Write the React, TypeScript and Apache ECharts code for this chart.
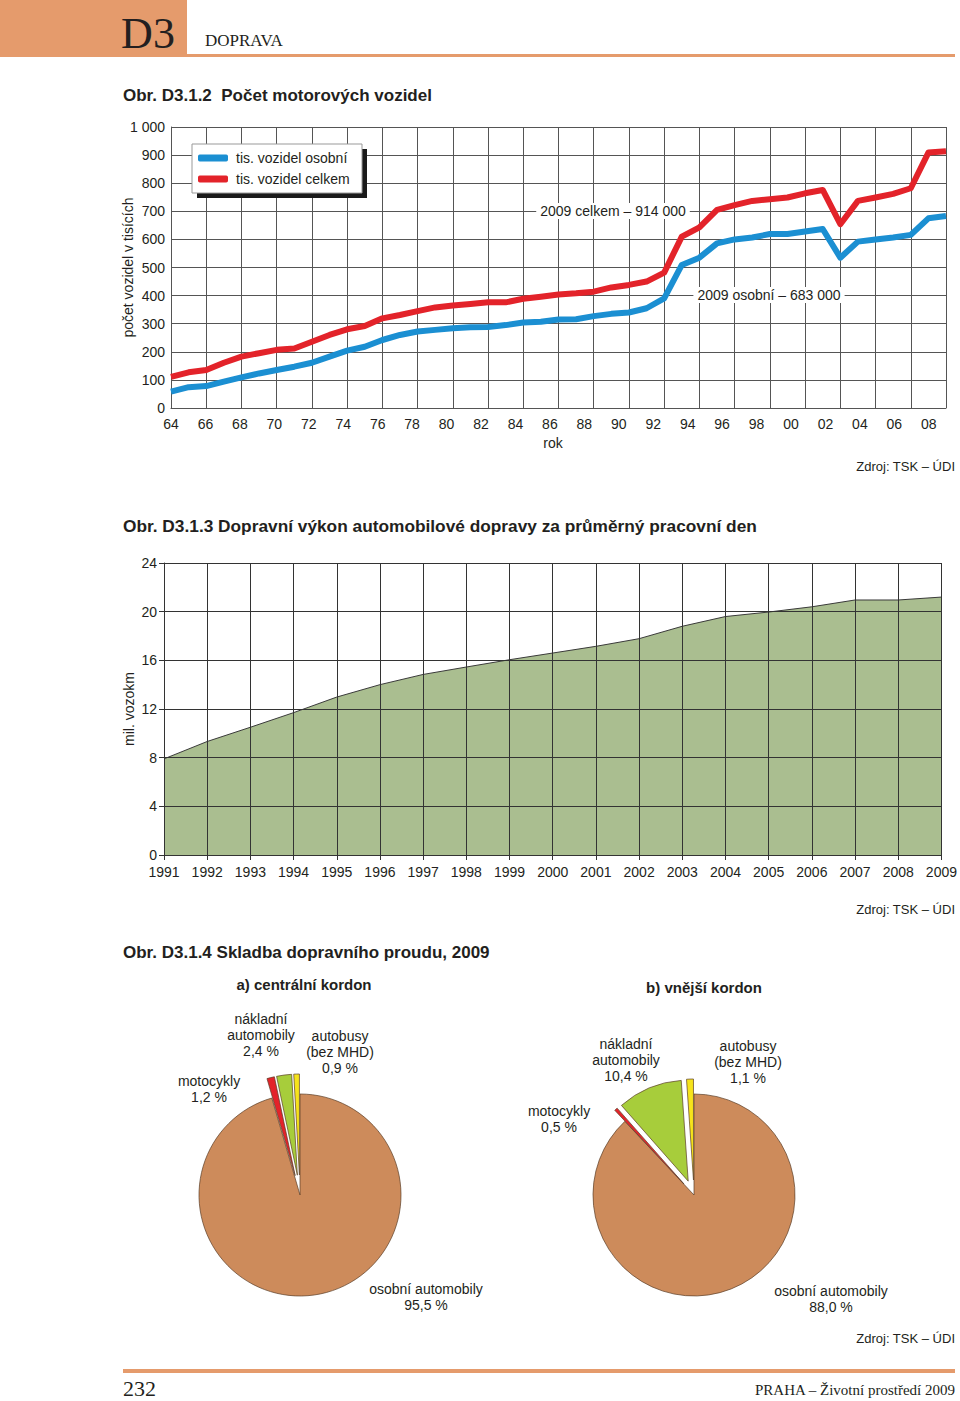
import React, { useEffect, useRef } from "react";
import * as echarts from "echarts";

// ---------- Obr. D3.1.2 data ----------
const vehicleCategories = [
  "1965", "1966", "1967", "1968", "1969", "1970", "1971", "1972", "1973", "1974",
  "1975", "1976", "1977", "1978", "1979", "1980", "1981", "1982", "1983", "1984",
  "1985", "1986", "1987", "1988", "1989", "1990", "1991", "1992", "1993", "1994",
  "1995", "1996", "1997", "1998", "1999", "2000", "2001", "2002", "2003", "2004",
  "2005", "2006", "2007", "2008", "2009",
];
const passengerCars = [
  58, 74, 78, 94, 109, 123, 135, 147, 161, 183, 204, 218, 242, 260, 272, 278, 284, 287, 288, 295,
  304, 307, 315, 316, 327, 335, 340, 355, 390, 509, 535, 586, 600, 607, 619, 619, 628, 637, 535, 592,
  600, 607, 616, 675, 683,
];
const allVehicles = [
  111, 127, 135, 161, 183, 195, 207, 212, 236, 260, 280, 292, 319, 331, 345, 358, 365, 370, 376, 376,
  389, 396, 404, 408, 414, 429, 438, 450, 482, 610, 643, 705, 722, 737, 743, 749, 764, 776, 654, 737,
  749, 762, 782, 909, 914,
];
const vehicleTickLabels = [
  "64", "66", "68", "70", "72", "74", "76", "78", "80", "82", "84", "86",
  "88", "90", "92", "94", "96", "98", "00", "02", "04", "06", "08",
];

// ---------- Obr. D3.1.3 data ----------
const volumeYears = [
  "1991", "1992", "1993", "1994", "1995", "1996", "1997", "1998", "1999", "2000",
  "2001", "2002", "2003", "2004", "2005", "2006", "2007", "2008", "2009",
];
const trafficVolume = [
  7.9, 9.33, 10.5, 11.7, 12.98, 14.0, 14.84, 15.45, 16.05, 16.6,
  17.15, 17.78, 18.8, 19.6, 19.97, 20.4, 20.96, 20.96, 21.2,
];

// ---------- Obr. D3.1.4 data ----------
const pieCategories = ["osobní automobily", "motocykly", "nákladní\nautomobily", "autobusy\n(bez MHD)"];
const centralShares = [95.5, 1.2, 2.4, 0.9];
const outerShares = [88.0, 0.5, 10.4, 1.1];
const pieColors = ["#cd8b5b", "#e3232a", "#a7cd3b", "#f6e31b"];

// layout (positions only)
const centralLabelPos = [[426, 1297], [209, 1089], [261, 1035], [340, 1052]];
const outerLabelPos = [[831, 1299], [559, 1119], [626, 1060], [748, 1062]];

const SANS = '"Liberation Sans", Arial, Helvetica, sans-serif';
const SERIF = '"Liberation Serif", "Times New Roman", serif';
const INK = "#231f20";
const ORANGE = "#e59b6c";

const fmtThousands = (v: number) => String(Math.round(v)).replace(/\B(?=(\d{3})+(?!\d))/g, " ");
const fmtPct = (v: number) => v.toFixed(1).replace(".", ",") + " %";

function pieSeries(name: string, shares: number[], cx: number, offset: number) {
  return {
    type: "pie",
    name,
    center: [cx, 1195],
    radius: 101,
    startAngle: 90,
    clockwise: true,
    selectedMode: "multiple",
    selectedOffset: offset,
    avoidLabelOverlap: false,
    emphasis: { disabled: true },
    itemStyle: { borderColor: "#5a3d26", borderWidth: 0.7 },
    label: { show: false },
    labelLine: { show: false },
    data: shares.map((v, i) => ({
      name: pieCategories[i],
      value: v,
      selected: i > 0,
      itemStyle: { color: pieColors[i] },
    })),
  };
}

function txt(x: number, y: number, text: string, opts: any = {}) {
  return {
    type: "text",
    x,
    y,
    z: opts.z ?? 3,
    style: {
      text,
      fill: opts.fill ?? INK,
      font: opts.font ?? `14px ${SANS}`,
      align: opts.align ?? "left",
      verticalAlign: "middle",
      lineHeight: opts.lineHeight,
      backgroundColor: opts.bg,
      padding: opts.padding,
    },
  };
}

function pieLabels(shares: number[], pos: number[][]) {
  return shares.map((v, i) =>
    txt(pos[i][0], pos[i][1], `${pieCategories[i]}\n${fmtPct(v)}`, {
      align: "center",
      lineHeight: 16,
    })
  );
}

export default function App() {
  const ref = useRef<HTMLDivElement>(null);

  useEffect(() => {
    if (!ref.current) return;
    const chart = echarts.init(ref.current, undefined, { renderer: "svg" });
    const last = allVehicles.length - 1;

    const option: any = {
      animation: false,
      backgroundColor: "#ffffff",
      textStyle: { fontFamily: SANS, color: INK },
      legend: {
        data: ["tis. vozidel osobní", "tis. vozidel celkem"],
        orient: "vertical",
        left: 193,
        top: 146,
        itemWidth: 30,
        itemHeight: 7,
        itemGap: 7,
        icon: "roundRect",
        selectedMode: false,
        textStyle: { fontFamily: SANS, fontSize: 14, color: INK, padding: [0, 0, 0, 3] },
        z: 5,
      },
      grid: [
        { left: 171, top: 127, width: 775, height: 281, containLabel: false },
        { left: 164, top: 563, width: 779, height: 292, containLabel: false },
      ],
      xAxis: [
        {
          gridIndex: 0,
          type: "category",
          data: vehicleCategories,
          boundaryGap: false,
          axisLine: { show: true, lineStyle: { color: "#555", width: 1 } },
          axisTick: { show: false },
          axisLabel: { show: false },
          splitLine: { show: true, lineStyle: { color: "#555", width: 1 } },
        },
        {
          gridIndex: 0,
          type: "value",
          min: 0,
          max: 22.5,
          interval: 1,
          position: "bottom",
          axisLine: { show: false },
          axisTick: { show: false },
          splitLine: { show: false },
          axisLabel: {
            show: true,
            margin: 9,
            fontSize: 14,
            color: INK,
            fontFamily: SANS,
            showMaxLabel: false,
            formatter: (v: number) => vehicleTickLabels[Math.round(v)] ?? "",
          },
        },
        {
          gridIndex: 1,
          type: "category",
          data: volumeYears,
          boundaryGap: false,
          z: 5,
          axisLine: { show: true, lineStyle: { color: "#333", width: 1 } },
          axisTick: { show: true, length: 5, lineStyle: { color: "#333" } },
          axisLabel: { show: true, margin: 10, fontSize: 14, color: INK, fontFamily: SANS },
          splitLine: { show: true, lineStyle: { color: "#333", width: 1 } },
        },
      ],
      yAxis: [
        {
          gridIndex: 0,
          type: "value",
          min: 0,
          max: 1000,
          interval: 100,
          name: "počet vozidel v tisících",
          nameLocation: "middle",
          nameRotate: 90,
          nameGap: 36,
          nameMoveOverlap: false,
          nameTextStyle: { fontSize: 14, color: INK, fontFamily: SANS },
          axisLine: { show: true, lineStyle: { color: "#555", width: 1 } },
          axisTick: { show: false },
          axisLabel: { margin: 6, fontSize: 14, color: INK, fontFamily: SANS, formatter: fmtThousands },
          splitLine: { show: true, lineStyle: { color: "#555", width: 1 } },
        },
        {
          gridIndex: 1,
          type: "value",
          min: 0,
          max: 24,
          interval: 4,
          z: 5,
          name: "mil. vozokm",
          nameLocation: "middle",
          nameRotate: 90,
          nameGap: 28,
          nameMoveOverlap: false,
          nameTextStyle: { fontSize: 14, color: INK, fontFamily: SANS },
          axisLine: { show: true, lineStyle: { color: "#333", width: 1 } },
          axisTick: { show: true, length: 5, lineStyle: { color: "#333" } },
          axisLabel: { margin: 7, fontSize: 14, color: INK, fontFamily: SANS },
          splitLine: { show: true, lineStyle: { color: "#333", width: 1 } },
        },
      ],
      series: [
        {
          type: "line",
          name: "tis. vozidel osobní",
          xAxisIndex: 0,
          yAxisIndex: 0,
          data: passengerCars,
          symbol: "none",
          color: "#1b8fd2",
          lineStyle: { width: 6, color: "#1b8fd2", join: "round" },
          z: 3,
        },
        {
          type: "line",
          name: "tis. vozidel celkem",
          xAxisIndex: 0,
          yAxisIndex: 0,
          data: allVehicles,
          symbol: "none",
          color: "#e3232a",
          lineStyle: { width: 6, color: "#e3232a", join: "round" },
          z: 3,
        },
        {
          type: "line",
          name: "dopravní výkon",
          xAxisIndex: 2,
          yAxisIndex: 1,
          data: trafficVolume,
          symbol: "none",
          lineStyle: { width: 1, color: "#3a3a3a" },
          areaStyle: { color: "#aabe90", opacity: 1 },
          z: 2,
        },
        pieSeries("a) centrální kordon", centralShares, 300, 20),
        pieSeries("b) vnější kordon", outerShares, 694, 15),
      ],
      graphic: [
        // header
        { type: "rect", shape: { x: 0, y: 0, width: 187, height: 57 }, style: { fill: ORANGE }, z: 1 },
        { type: "rect", shape: { x: 187, y: 54, width: 768, height: 3 }, style: { fill: ORANGE }, z: 1 },
        txt(148, 33, "D3", { font: `44px ${SERIF}`, align: "center" }),
        txt(205, 40, "DOPRAVA", { font: `17px ${SERIF}` }),
        // chart 1
        txt(123, 95, "Obr. D3.1.2  Počet motorových vozidel", { font: `bold 17px ${SANS}` }),
        { type: "rect", shape: { x: 197, y: 149, width: 170, height: 49 }, style: { fill: "#1a1a1a" }, z: 3 },
        { type: "rect", shape: { x: 192, y: 144, width: 170, height: 49 }, style: { fill: "#fff", stroke: "#999", lineWidth: 1 }, z: 3 },
        txt(613, 211, `${vehicleCategories[last]} celkem – ${fmtThousands(allVehicles[last] * 1000)}`, {
          align: "center", bg: "#fff", padding: [1, 4],
        }),
        txt(769, 295, `${vehicleCategories[last]} osobní – ${fmtThousands(passengerCars[last] * 1000)}`, {
          align: "center", bg: "#fff", padding: [1, 4],
        }),
        txt(553, 443, "rok", { align: "center" }),
        txt(955, 466, "Zdroj: TSK – ÚDI", { align: "right", font: `13px ${SANS}` }),
        // chart 2
        txt(123, 526, "Obr. D3.1.3 Dopravní výkon automobilové dopravy za průměrný pracovní den", { font: `bold 17.3px ${SANS}` }),
        txt(955, 909, "Zdroj: TSK – ÚDI", { align: "right", font: `13px ${SANS}` }),
        // chart 3
        txt(123, 952, "Obr. D3.1.4 Skladba dopravního proudu, 2009", { font: `bold 17px ${SANS}` }),
        txt(304, 984, "a) centrální kordon", { align: "center", font: `bold 15px ${SANS}` }),
        txt(704, 987, "b) vnější kordon", { align: "center", font: `bold 15px ${SANS}` }),
        ...pieLabels(centralShares, centralLabelPos),
        ...pieLabels(outerShares, outerLabelPos),
        txt(955, 1338, "Zdroj: TSK – ÚDI", { align: "right", font: `13px ${SANS}` }),
        // footer
        { type: "rect", shape: { x: 123, y: 1369, width: 832, height: 4 }, style: { fill: ORANGE }, z: 1 },
        txt(123, 1388, "232", { font: `22px ${SERIF}` }),
        txt(955, 1390, "PRAHA – Životní prostředí 2009", { align: "right", font: `15px ${SERIF}` }),
      ],
    };

    chart.setOption(option);
    return () => chart.dispose();
  }, []);

  return (
    <div
      ref={ref}
      style={{ position: "absolute", left: 0, top: 0, width: 960, height: 1401, background: "#fff" }}
    />
  );
}
